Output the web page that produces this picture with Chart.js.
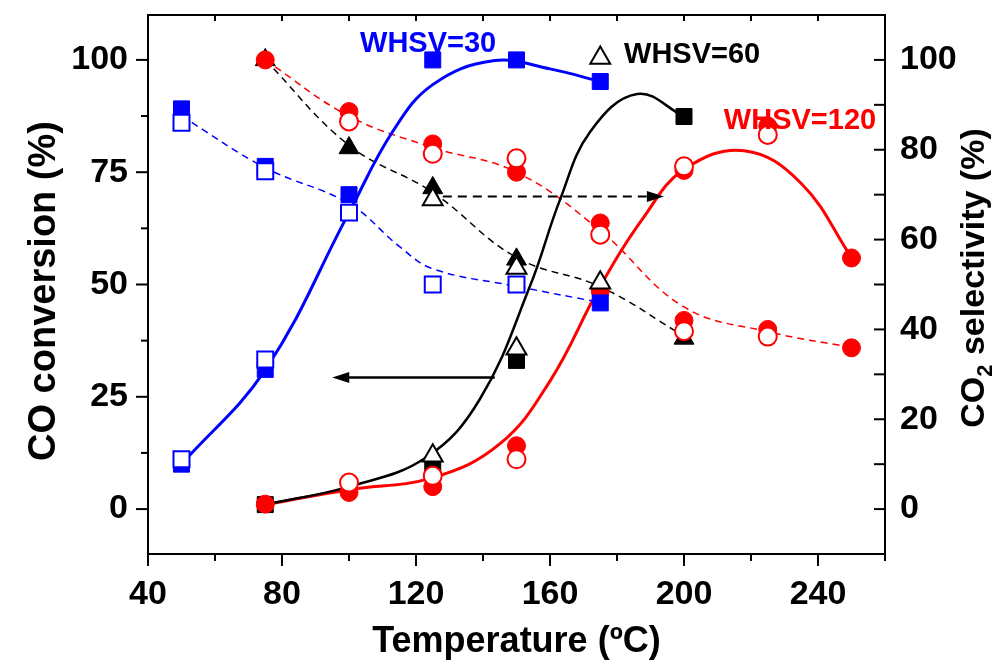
<!DOCTYPE html>
<html>
<head>
<meta charset="utf-8">
<script src="https://cdn.jsdelivr.net/npm/chart.js@4.4.0/dist/chart.umd.min.js"></script>
<style>
  html, body { margin: 0; padding: 0; background: #fff; }
  #wrap { width: 994px; height: 663px; }
</style>
</head>
<body>
<div id="wrap"><canvas id="chart"></canvas></div>
<script>
// axes
var xMin = 40, xMax = 260;
var xMajorTicks = [40, 80, 120, 160, 200, 240];
var xMinorTicks = [60, 100, 140, 180, 220, 260];
var xTopTicks = [60, 80, 100, 120, 140, 160, 180, 200, 220, 240];
var yMin = -10, yMax = 110;
var yLeftTicks = [0, 25, 50, 75, 100];
var yLeftMinor = [12.5, 37.5, 62.5, 87.5];
var yRightTicks = [0, 20, 40, 60, 80, 100];
var yRightMinor = [10, 30, 50, 70, 90];

// WHSV=30 (blue)
var b30ConvFilledT = [50, 75, 125, 150, 175];
var b30ConvFilled  = [10, 31.1, 100, 100, 95.2];
var b30ConvOpenT   = [50, 75, 100];
var b30ConvOpen    = [11.1, 33.3, 66];
var b30SelFilledT  = [50, 75, 100, 175];
var b30SelFilled   = [89.1, 76.3, 70, 45.9];
var b30SelOpenT    = [50, 75, 125, 150];
var b30SelOpen     = [86, 75.2, 50, 50];
var b30ConvFitT    = [50, 75, 100, 113, 125, 143, 160, 175];
var b30ConvFit     = [10, 31, 66, 84, 94.5, 99.8, 98, 95.2];
var b30SelFitT     = [50, 75, 100, 115, 125, 150, 175];
var b30SelFit      = [87.5, 76, 68, 58.5, 53.5, 49.6, 46];

// WHSV=60 (black)
var b60ConvFilledT = [75, 125, 150, 200];
var b60ConvFilled  = [1, 9.5, 33.1, 87.4];
var b60ConvOpenT   = [125, 150, 175];
var b60ConvOpen    = [11.9, 35.7, 100.4];
var b60SelFilledT  = [75, 100, 125, 150, 200];
var b60SelFilled   = [100, 80.4, 71.5, 55.6, 38];
var b60SelOpenT    = [125, 150, 175];
var b60SelOpen     = [68.9, 53.7, 50.4];
var b60ConvFitT    = [75, 100, 123, 139, 154, 163, 172, 186, 200];
var b60ConvFit     = [1, 5, 11.5, 24.4, 49.6, 68.9, 84, 92.4, 87.4];
var b60SelFitT     = [75, 100, 125, 150, 175, 200];
var b60SelFit      = [100, 81, 70.5, 56, 49.5, 38.5];

// WHSV=120 (red)
var b120ConvFilledT = [75, 100, 125, 150, 175, 200, 225, 250];
var b120ConvFilled  = [1.1, 3.7, 5, 14.1, 48.5, 75.4, 85.3, 55.9];
var b120ConvOpenT   = [100, 125, 150, 200, 225];
var b120ConvOpen    = [5.9, 7.4, 11.1, 76.3, 83.3];
var b120SelFilledT  = [75, 100, 125, 150, 175, 200, 225, 250];
var b120SelFilled   = [100, 88.5, 81.3, 75, 63.7, 42, 40, 35.9];
var b120SelOpenT    = [100, 125, 150, 175, 200, 225];
var b120SelOpen     = [86.3, 79.1, 78.1, 61.1, 39.6, 38.4];
var b120ConvFitT    = [75, 100, 125, 145, 160, 175, 188, 200, 218, 235, 250];
var b120ConvFit     = [1, 4.3, 7, 14.5, 28.5, 49.6, 65, 75.6, 79.8, 72.5, 56];
var b120SelFitT     = [75, 100, 125, 150, 175, 200, 225, 250];
var b120SelFit      = [100, 87.5, 80.5, 75, 62, 45, 39.5, 36];

// arrows: [from, to] in temperature / percent
var convArrowT = [143.5, 95];
var convArrowV = [29.3, 29.3];
var selArrowT  = [128, 194];
var selArrowV  = [69.6, 69.6];

var labelTexts  = ['WHSV=30', 'WHSV=60', 'WHSV=120'];
var labelColors = ['#0000ff', '#000000', '#ff0000'];
var labelAt     = [[103.3, 101.8], [182.1, 99.3], [211.9, 84.7]];

var FONT = "'Liberation Sans', Arial, sans-serif";

function pts(ts, vs) {
  return ts.map(function (t, i) { return { x: t, y: vs[i] }; });
}

function markers(ts, vs, color, style, filled, order, axis) {
  var r = style === 'rect' ? 11.3 : (style === 'triangle' ? 11.5 : 9);
  return {
    data: pts(ts, vs),
    yAxisID: axis,
    showLine: false,
    pointStyle: style,
    pointRadius: r,
    pointHoverRadius: r,
    pointBackgroundColor: filled ? color : '#ffffff',
    pointBorderColor: color,
    pointBorderWidth: filled ? 1 : 2,
    order: order
  };
}

function curve(ts, vs, color, width, dashed, axis) {
  return {
    data: pts(ts, vs),
    yAxisID: axis,
    showLine: true,
    borderColor: color,
    borderWidth: width,
    borderDash: dashed ? [7, 5] : [],
    pointRadius: 0,
    pointHoverRadius: 0,
    fill: false,
    tension: 0.4,
    order: 20
  };
}

// fixed box sizes so the plot area matches the original figure
function fixWidth(w) {
  return function (s) { s.width = w; s.paddingTop = 0; s.paddingBottom = 0; };
}
function fixHeight(h) {
  return function (s) { s.height = h; s.paddingLeft = 0; s.paddingRight = 0; };
}

var decor = {
  id: 'decor',
  afterDraw: function (chart) {
    var ctx = chart.ctx, a = chart.chartArea;
    var sx = chart.scales.x, sy = chart.scales.y, sy2 = chart.scales.y2;
    ctx.save();
    ctx.strokeStyle = '#000';
    ctx.lineWidth = 2;
    ctx.strokeRect(a.left, a.top, a.right - a.left, a.bottom - a.top);

    function seg(x1, y1, x2, y2) {
      ctx.beginPath(); ctx.moveTo(x1, y1); ctx.lineTo(x2, y2); ctx.stroke();
    }
    xMajorTicks.forEach(function (v) { var p = sx.getPixelForValue(v); seg(p, a.bottom, p, a.bottom + 12); });
    xMinorTicks.forEach(function (v) { var p = sx.getPixelForValue(v); seg(p, a.bottom, p, a.bottom + 7); });
    xTopTicks.forEach(function (v) { var p = sx.getPixelForValue(v); seg(p, a.top, p, a.top + 6); });
    yLeftTicks.forEach(function (v) { var p = sy.getPixelForValue(v); seg(a.left - 12, p, a.left, p); });
    yLeftMinor.forEach(function (v) { var p = sy.getPixelForValue(v); seg(a.left - 7, p, a.left, p); });
    yRightTicks.concat(yRightMinor).forEach(function (v) { var p = sy2.getPixelForValue(v); seg(a.right - 11, p, a.right, p); });

    // arrows
    function arrow(ts, vs, dashed) {
      var x1 = sx.getPixelForValue(ts[0]), y1 = sy.getPixelForValue(vs[0]);
      var x2 = sx.getPixelForValue(ts[1]), y2 = sy.getPixelForValue(vs[1]);
      var dir = x2 > x1 ? 1 : -1;
      ctx.lineWidth = dashed ? 2 : 2.5;
      ctx.setLineDash(dashed ? [9, 6] : []);
      seg(x1, y1, x2 - dir * 14, y2);
      ctx.setLineDash([]);
      ctx.fillStyle = '#000';
      ctx.beginPath();
      ctx.moveTo(x2, y2);
      ctx.lineTo(x2 - dir * 17, y2 - 5.5);
      ctx.lineTo(x2 - dir * 17, y2 + 5.5);
      ctx.closePath();
      ctx.fill();
    }
    arrow(convArrowT, convArrowV, false);
    arrow(selArrowT, selArrowV, true);

    // series labels
    ctx.font = 'bold 29px ' + FONT;
    ctx.textBaseline = 'alphabetic';
    ctx.textAlign = 'left';
    labelTexts.forEach(function (t, i) {
      ctx.fillStyle = labelColors[i];
      ctx.fillText(t, sx.getPixelForValue(labelAt[i][0]), sy.getPixelForValue(labelAt[i][1]));
    });

    // axis titles
    ctx.fillStyle = '#000';
    ctx.font = 'bold 36px ' + FONT;
    ctx.textAlign = 'center';
    ctx.fillText('Temperature (\u00baC)', (a.left + a.right) / 2, 652);

    ctx.save();
    ctx.translate(55, 291);
    ctx.rotate(-Math.PI / 2);
    ctx.font = 'bold 38px ' + FONT;
    ctx.fillText('CO conversion (%)', 0, 0);
    ctx.restore();

    ctx.save();
    ctx.translate(984, 278);
    ctx.rotate(-Math.PI / 2);
    ctx.textAlign = 'left';
    var big = 'bold 34px ' + FONT, small = 'bold 22px ' + FONT;
    ctx.font = big; var w1 = ctx.measureText('CO').width;
    ctx.font = small; var w2 = ctx.measureText('2').width;
    ctx.font = big; var w3 = ctx.measureText(' selectivity (%)').width;
    var x0 = -(w1 + w2 + w3) / 2;
    ctx.font = big; ctx.fillText('CO', x0, 0);
    ctx.font = small; ctx.fillText('2', x0 + w1, 8);
    ctx.font = big; ctx.fillText(' selectivity (%)', x0 + w1 + w2, 0);
    ctx.restore();

    ctx.restore();
  }
};

var tickFont = { family: FONT, weight: 'bold', size: 34 };

new Chart(document.getElementById('chart'), {
  type: 'scatter',
  data: {
    datasets: [
      curve(b30ConvFitT, b30ConvFit, '#0000ff', 3, false, 'y'),
      curve(b30SelFitT, b30SelFit, '#0000ff', 1.5, true, 'y2'),
      curve(b60ConvFitT, b60ConvFit, '#000000', 2.5, false, 'y'),
      curve(b60SelFitT, b60SelFit, '#000000', 1.5, true, 'y2'),
      curve(b120ConvFitT, b120ConvFit, '#ff0000', 3, false, 'y'),
      curve(b120SelFitT, b120SelFit, '#ff0000', 1.5, true, 'y2'),

      markers(b60ConvFilledT, b60ConvFilled, '#000000', 'rect', true, 13, 'y'),
      markers(b60SelFilledT, b60SelFilled, '#000000', 'triangle', true, 12, 'y2'),
      markers(b120ConvFilledT, b120ConvFilled, '#ff0000', 'circle', true, 11, 'y'),
      markers(b120SelFilledT, b120SelFilled, '#ff0000', 'circle', true, 11, 'y2'),
      markers(b30ConvFilledT, b30ConvFilled, '#0000ff', 'rect', true, 10, 'y'),
      markers(b30SelFilledT, b30SelFilled, '#0000ff', 'rect', true, 10, 'y2'),
      markers(b30ConvOpenT, b30ConvOpen, '#0000ff', 'rect', false, 8, 'y'),
      markers(b30SelOpenT, b30SelOpen, '#0000ff', 'rect', false, 8, 'y2'),
      markers(b120ConvOpenT, b120ConvOpen, '#ff0000', 'circle', false, 7, 'y'),
      markers(b120SelOpenT, b120SelOpen, '#ff0000', 'circle', false, 7, 'y2'),
      markers(b60ConvOpenT, b60ConvOpen, '#000000', 'triangle', false, 6, 'y'),
      markers(b60SelOpenT, b60SelOpen, '#000000', 'triangle', false, 6, 'y2')
    ]
  },
  options: {
    responsive: true,
    maintainAspectRatio: false,
    animation: false,
    layout: { autoPadding: false, padding: { top: 15, right: 0, bottom: 0, left: 0 } },
    plugins: { legend: { display: false }, tooltip: { enabled: false } },
    scales: {
      x: {
        type: 'linear', min: xMin, max: xMax,
        afterBuildTicks: function (s) { s.ticks = xMajorTicks.map(function (v) { return { value: v }; }); },
        afterFit: fixHeight(109),
        grid: { display: false, drawTicks: false },
        border: { display: false },
        ticks: { font: tickFont, color: '#000', padding: 20, maxRotation: 0 }
      },
      y: {
        position: 'left', min: yMin, max: yMax,
        afterBuildTicks: function (s) { s.ticks = yLeftTicks.map(function (v) { return { value: v }; }); },
        afterFit: fixWidth(148),
        grid: { display: false, drawTicks: false },
        border: { display: false },
        ticks: { font: tickFont, color: '#000', padding: 20 }
      },
      y2: {
        position: 'right', min: yMin, max: yMax,
        afterBuildTicks: function (s) { s.ticks = yRightTicks.map(function (v) { return { value: v }; }); },
        afterFit: fixWidth(109),
        grid: { display: false, drawTicks: false },
        border: { display: false },
        ticks: { font: tickFont, color: '#000', padding: 15 }
      }
    }
  },
  plugins: [decor]
});
</script>
</body>
</html>
